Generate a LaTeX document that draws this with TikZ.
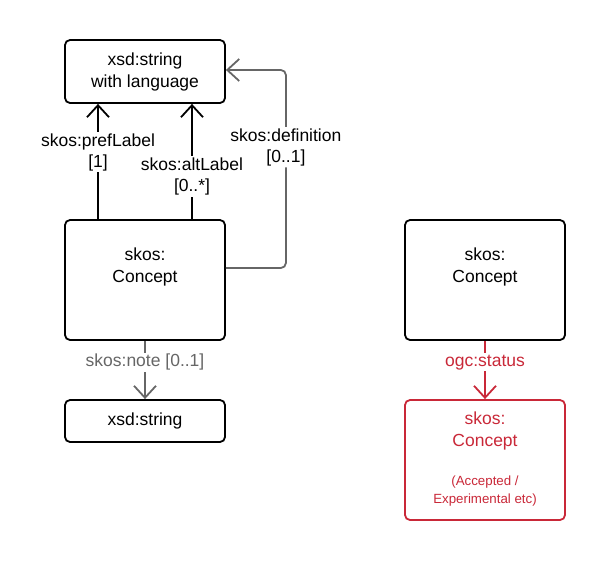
\documentclass[tikz,border=0pt]{standalone}
\usepackage{fontspec}
\setmainfont{Liberation Sans}
\usetikzlibrary{arrows.meta}
\definecolor{linkgrey}{RGB}{102,102,102}
\definecolor{statusred}{RGB}{201,40,56}

\begin{document}
\begin{tikzpicture}[x=1pt, y=-1pt,
    box/.style={draw, line width=1.8pt, rounded corners=5pt, minimum width=160pt, align=center, font=\fontsize{17.5}{22}\selectfont},
    boxtext/.style={align=center, font=\fontsize{17.5}{22}\selectfont},
    smalltext/.style={align=center, font=\fontsize{13.3}{18}\selectfont},
    rel/.style={line width=1.8pt, -{Straight Barb[length=12pt, width=22pt, line width=1.8pt]}},
    tag/.style={fill=white, align=center, inner sep=1.5pt, font=\fontsize{17.5}{21}\selectfont}]
    \useasboundingbox (0,0) rectangle (605,560);

    % Left side: concept with its labels
    \node[box, minimum height=63pt] (langstr) at (145,71.5) {xsd:string\\with language};
    \node[box, minimum height=120pt] (concept) at (145,280) {};
    \node[boxtext] (conceptname) at (145,267) {skos:\\Concept};
    \node[box, minimum height=42pt] (str) at (145,421) {xsd:string};

    % Right side: concept with status
    \node[box, minimum height=120pt] (subject) at (485,280) {};
    \node[boxtext] (subjectname) at (485,267) {skos:\\Concept};
    \node[box, draw=statusred, minimum height=120pt] (status) at (485,460) {};
    \node[boxtext, text=statusred] (statusname) at (485,431) {skos:\\Concept};
    \node[smalltext, text=statusred] (statusnote) at (485,491) {(Accepted /\\Experimental etc)};

    % Relations
    \draw[rel, linkgrey, rounded corners=5pt] ([yshift=12pt]concept.east) -- ++(60,0)
      -- ([xshift=60pt, yshift=1.5pt]langstr.east) node[tag, pos=0.61, text=black] {skos:definition\\{}[0..1]}
      -- ([yshift=1.5pt]langstr.east);
    \draw[rel] ([xshift=-47pt]concept.north) -- ([xshift=-47pt]langstr.south)
      node[tag, pos=0.58] {skos:prefLabel\\{}[1]};
    \draw[rel] ([xshift=47pt]concept.north) -- ([xshift=47pt]langstr.south)
      node[tag, pos=0.37] {skos:altLabel\\{}[0..*]};
    \draw[rel, linkgrey] (concept.south) -- (str.north)
      node[tag, pos=0.37, text=linkgrey] {skos:note [0..1]};
    \draw[rel, statusred] (subject.south) -- (status.north)
      node[tag, pos=0.37, text=statusred] {ogc:status};
\end{tikzpicture}
\end{document}
